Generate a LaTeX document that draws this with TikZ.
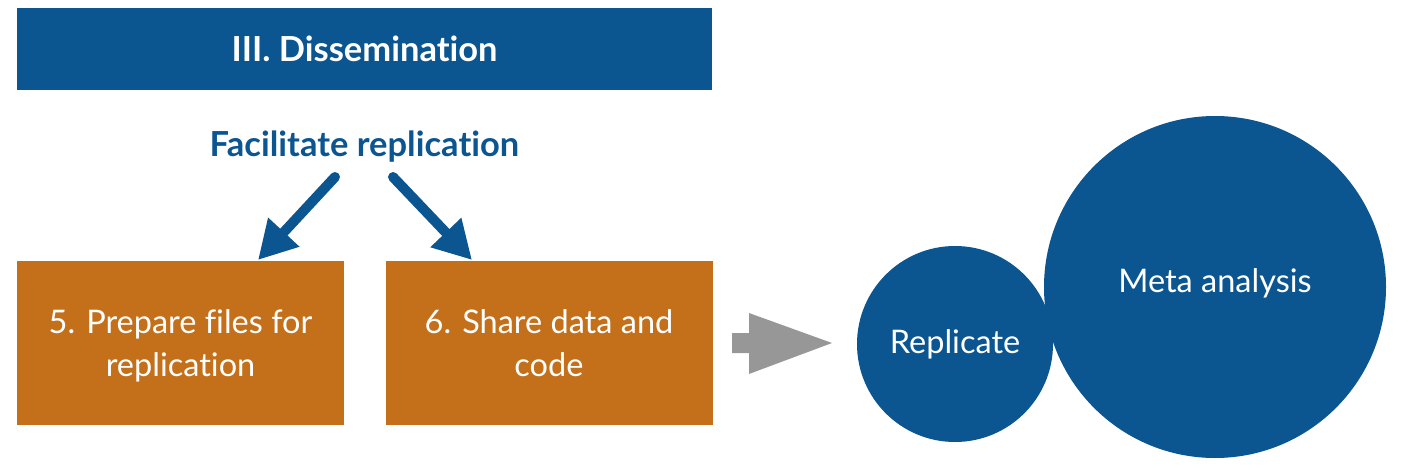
\documentclass[tikz,border=0pt]{standalone}
\usepackage{fontspec}
\setmainfont[RawFeature=-liga]{Lato}
\usetikzlibrary{arrows.meta}
\definecolor{navy}{HTML}{0B5591}
\definecolor{ochre}{HTML}{C4701B}
\definecolor{greyarr}{HTML}{979797}
\tikzset{
  banner/.style={fill=navy,text=white,font=\bfseries\fontsize{34.5}{40}\selectfont,inner sep=0pt,minimum width=695pt,minimum height=82pt},
  stepbox/.style={fill=ochre,inner sep=0pt,minimum width=327pt,minimum height=164pt},
  steptext/.style={text=white,align=center,font=\fontsize{32.5}{43}\selectfont},
  bubble/.style={circle,fill=navy,text=white,font=\fontsize{32.5}{38}\selectfont,inner sep=0pt},
  bluearrow/.style={draw=navy,line width=10pt,line cap=round,-{Triangle[length=38pt,width=40pt]}},
}
\begin{document}
\begin{tikzpicture}[x=1pt,y=-1pt]
\useasboundingbox (0,0) rectangle (1408,476);
\node[banner] (ban) at (364.5,49) {III. Dissemination};
\node[text=navy,font=\bfseries\fontsize{34.5}{40}\selectfont] (fac) at (364.5,147) {Facilitate replication};
\node[stepbox] (s5) at (180.5,343) {};
\node[stepbox] (s6) at (549,343) {};
\node[steptext] (s5t) at (180.5,345.5) {5. Prepare files for\\replication};
\node[steptext] (s6t) at (549,343) {6. Share data and\\code};
\coordinate (a1s) at (335,177);
\coordinate (a1e) at (258,260);
\coordinate (a2s) at (393,177);
\coordinate (a2e) at (472,260);
\draw[bluearrow] (a1s) -- (a1e);
\draw[bluearrow] (a2s) -- (a2e);
\fill[greyarr] (732,333) -- (749,333) -- (749,313) -- (832,343) -- (749,374) -- (749,353) -- (732,353) -- cycle;
\node[bubble,minimum size=342pt] (meta) at (1215,287) {};
\node[bubble,minimum size=196pt] (rep) at (955,344) {Replicate};
\node[font=\fontsize{32.5}{38}\selectfont,text=white] (metat) at (1215,283) {Meta analysis};
\end{tikzpicture}
\end{document}
